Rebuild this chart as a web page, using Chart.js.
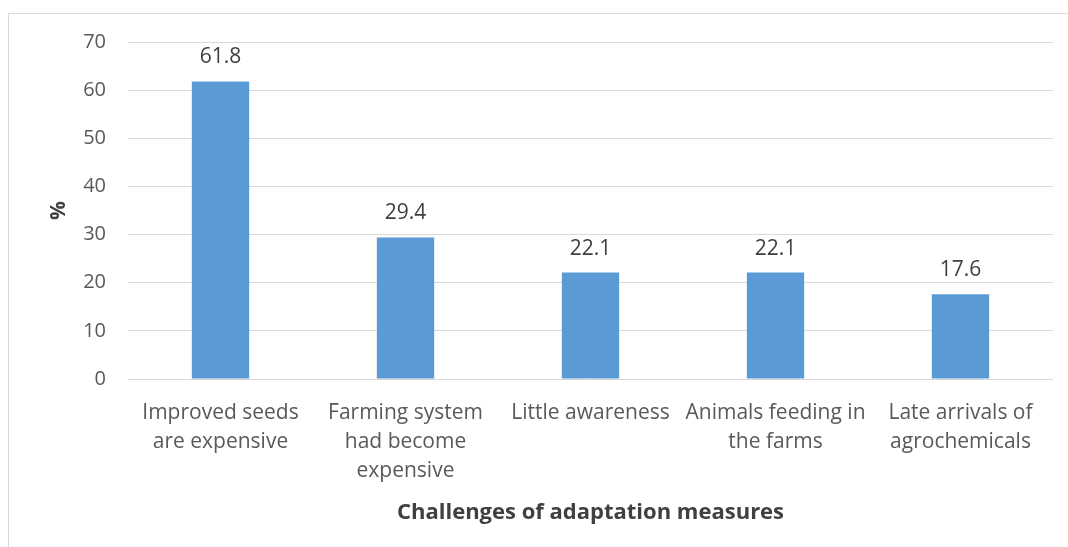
<!DOCTYPE html>
<html>
<head>
<meta charset="utf-8">
<script src="https://cdn.jsdelivr.net/npm/chart.js@4.4.1/dist/chart.umd.min.js"></script>
<style>
  html, body { margin: 0; padding: 0; background: #ffffff; }
  #wrap { width: 1068px; height: 547px; position: relative; }
</style>
</head>
<body>
<div id="wrap"><canvas id="c" width="1068" height="547"></canvas></div>
<script>
const categories = [
  ["Improved seeds", "are expensive"],
  ["Farming system", "had become", "expensive"],
  ["Little awareness"],
  ["Animals feeding in", "the farms"],
  ["Late arrivals of", "agrochemicals"]
];
const values = [61.8, 29.4, 22.1, 22.1, 17.6];
const yTicks = [0, 10, 20, 30, 40, 50, 60, 70];
const xTitle = "Challenges of adaptation measures";
const yTitle = "%";

const FONT = "'Open Sans', 'Noto Sans', sans-serif";

const frame = {
  id: 'frame',
  beforeDraw(chart) {
    const ctx = chart.ctx;
    ctx.save();
    ctx.fillStyle = '#ffffff';
    ctx.fillRect(0, 0, chart.width, chart.height);
    ctx.strokeStyle = '#d9d9d9';
    ctx.lineWidth = 1;
    ctx.strokeRect(8.5, 13.5, 1200, 700);
    ctx.restore();
  }
};

const dataLabels = {
  id: 'dataLabels',
  afterDatasetsDraw(chart) {
    const ctx = chart.ctx;
    const meta = chart.getDatasetMeta(0);
    ctx.save();
    ctx.font = "21px " + FONT;
    ctx.fillStyle = '#404040';
    ctx.textAlign = 'center';
    ctx.textBaseline = 'middle';
    meta.data.forEach((bar, i) => {
      ctx.fillText(values[i].toFixed(1), bar.x, bar.y - 24);
    });
    ctx.restore();
  }
};

new Chart(document.getElementById('c'), {
  type: 'bar',
  data: {
    labels: categories,
    datasets: [{
      data: values,
      backgroundColor: '#5b9bd5',
      borderWidth: 0,
      categoryPercentage: 1.0,
      barPercentage: 0.31
    }]
  },
  options: {
    responsive: false,
    animation: false,
    devicePixelRatio: 1,
    layout: { padding: { top: 42, right: 15, left: 0, bottom: 0 } },
    plugins: {
      legend: { display: false },
      tooltip: { enabled: false }
    },
    scales: {
      x: {
        grid: { display: false },
        border: { display: false },
        ticks: {
          color: '#595959',
          font: { family: FONT, size: 21, lineHeight: 29 / 21 },
          padding: 12,
          maxRotation: 0,
          autoSkip: false
        },
        title: {
          display: true,
          text: xTitle,
          color: '#404040',
          font: { family: FONT, size: 22, weight: 'bold' },
          padding: { top: 0, bottom: 21 }
        },
        afterFit(scale) { scale.height = 168; }
      },
      y: {
        min: 0,
        max: 70,
        afterBuildTicks(scale) { scale.ticks = yTicks.map(v => ({ value: v })); },
        grid: { color: '#d9d9d9', lineWidth: 1, drawTicks: false },
        border: { display: false },
        ticks: {
          color: '#595959',
          font: { family: FONT, size: 20 },
          padding: 22
        },
        title: {
          display: true,
          text: yTitle,
          color: '#404040',
          font: { family: FONT, size: 21, weight: 'bold' },
          padding: { top: 46, bottom: 0 }
        },
        afterFit(scale) { scale.width = 128; }
      }
    }
  },
  plugins: [frame, dataLabels]
});
</script>
</body>
</html>
